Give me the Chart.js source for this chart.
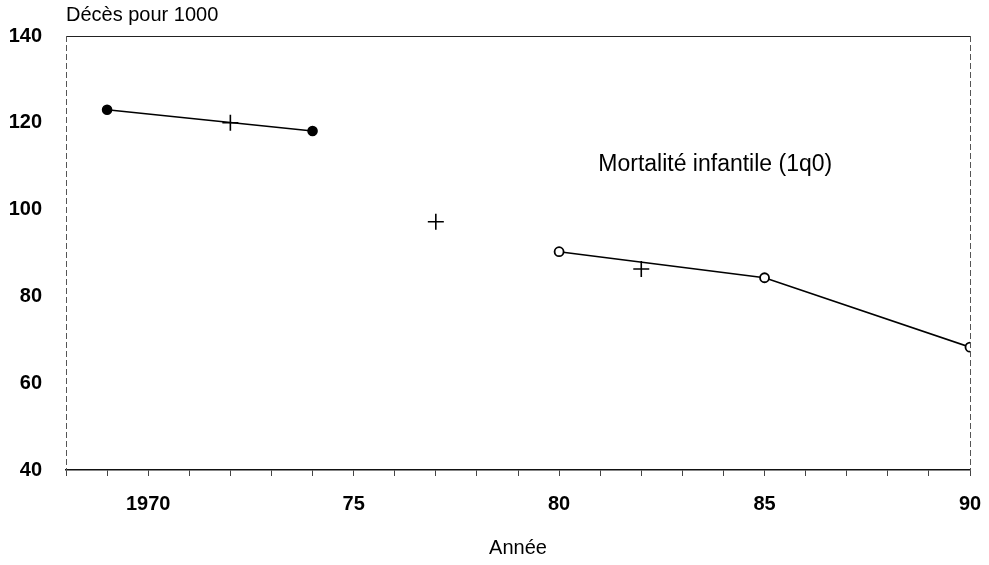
<!DOCTYPE html>
<html>
<head>
<meta charset="utf-8">
<script src="https://cdn.jsdelivr.net/npm/chart.js@4.4.1/dist/chart.umd.min.js"></script>
<style>
html,body{margin:0;padding:0;background:#fff;}
#wrap{width:989px;height:565px;position:relative;}
</style>
</head>
<body>
<div id="wrap"><canvas id="c"></canvas></div>
<script>
// Data
const yearsA = [1969, 1974];
const valuesA = [123, 118.1];
const yearsB = [1980, 1985, 1990];
const valuesB = [90.3, 84.3, 68.3];
const yearsCross = [1972, 1977, 1982];
const valuesCross = [120, 97.2, 86.3];
const yTicks = [40, 60, 80, 100, 120, 140];
const xMajorLabels = {1970: '1970', 1975: '75', 1980: '80', 1985: '85', 1990: '90'};
const yTitle = 'Décès pour 1000';
const xTitle = 'Année';
const annotationText = 'Mortalité infantile (1q0)';
const annotationPos = {x: 1983.8, y: 110.4};

const FONT = "'Liberation Sans', Arial, sans-serif";

const zip = (xs, ys) => xs.map((x, i) => ({x: x, y: ys[i]}));

const framePlugin = {
  id: 'frame',
  beforeDatasetsDraw(chart) {
    const {ctx, chartArea: a} = chart;
    ctx.save();
    ctx.strokeStyle = '#222';
    ctx.lineWidth = 1.2;
    ctx.beginPath();
    ctx.moveTo(a.left, a.top + 0.5);
    ctx.lineTo(a.right, a.top + 0.5);
    ctx.stroke();
    ctx.strokeStyle = '#555';
    ctx.lineWidth = 1;
    ctx.setLineDash([6, 3]);
    ctx.beginPath();
    ctx.moveTo(a.left + 0.5, a.top);
    ctx.lineTo(a.left + 0.5, a.bottom);
    ctx.moveTo(a.right + 0.5, a.top);
    ctx.lineTo(a.right + 0.5, a.bottom);
    ctx.stroke();
    ctx.restore();
  },
  afterDraw(chart) {
    const {ctx, chartArea: a, scales} = chart;
    ctx.save();
    ctx.fillStyle = '#000';
    ctx.font = '20px ' + FONT;
    ctx.textAlign = 'left';
    ctx.textBaseline = 'middle';
    ctx.fillText(yTitle, a.left, 15);
    ctx.font = '23px ' + FONT;
    ctx.textAlign = 'center';
    ctx.fillText(annotationText, scales.x.getPixelForValue(annotationPos.x), scales.y.getPixelForValue(annotationPos.y));
    ctx.restore();
  }
};

new Chart(document.getElementById('c'), {
  type: 'scatter',
  data: {
    datasets: [
      {
        data: zip(yearsA, valuesA),
        showLine: true,
        borderColor: '#000',
        borderWidth: 1.6,
        pointBackgroundColor: '#000',
        pointBorderColor: '#000',
        pointRadius: 4.5,
        pointStyle: 'circle'
      },
      {
        data: zip(yearsB, valuesB),
        showLine: true,
        borderColor: '#000',
        borderWidth: 1.6,
        pointBackgroundColor: '#fff',
        pointBorderColor: '#000',
        pointBorderWidth: 1.8,
        pointRadius: 4.5,
        pointStyle: 'circle'
      },
      {
        data: zip(yearsCross, valuesCross),
        showLine: false,
        borderColor: '#000',
        pointBorderColor: '#000',
        pointBorderWidth: 1.6,
        pointRadius: 8,
        pointStyle: 'cross'
      }
    ]
  },
  options: {
    responsive: true,
    maintainAspectRatio: false,
    animation: false,
    layout: {padding: {top: 33, left: 10, right: 19, bottom: 5}},
    plugins: {legend: {display: false}, tooltip: {enabled: false}, title: {display: false}},
    scales: {
      x: {
        type: 'linear',
        min: 1968,
        max: 1990,
        afterFit(scale) { scale.height = 90; scale.paddingRight = 0; scale.paddingLeft = 0; },
        ticks: {
          stepSize: 1,
          autoSkip: false,
          maxRotation: 0,
          padding: 16,
          color: '#000',
          font: {family: FONT, size: 20, weight: 'bold'},
          callback: (v) => (xMajorLabels[v] !== undefined ? xMajorLabels[v] : '')
        },
        grid: {display: true, drawOnChartArea: false, drawTicks: true, tickLength: 6, color: '#444', lineWidth: 1},
        border: {display: true, color: '#111', width: 1.5},
        title: {display: true, text: xTitle, color: '#000', font: {family: FONT, size: 20}, padding: {top: 0, bottom: 0}}
      },
      y: {
        type: 'linear',
        min: 40,
        max: 140,
        afterFit(scale) { scale.width = 56; },
        afterBuildTicks(scale) { scale.ticks = yTicks.map(v => ({value: v})); },
        ticks: {
          padding: 24,
          color: '#000',
          font: {family: FONT, size: 20, weight: 'bold'}
        },
        grid: {display: false, drawTicks: false},
        border: {display: false}
      }
    }
  },
  plugins: [framePlugin]
});
</script>
</body>
</html>
